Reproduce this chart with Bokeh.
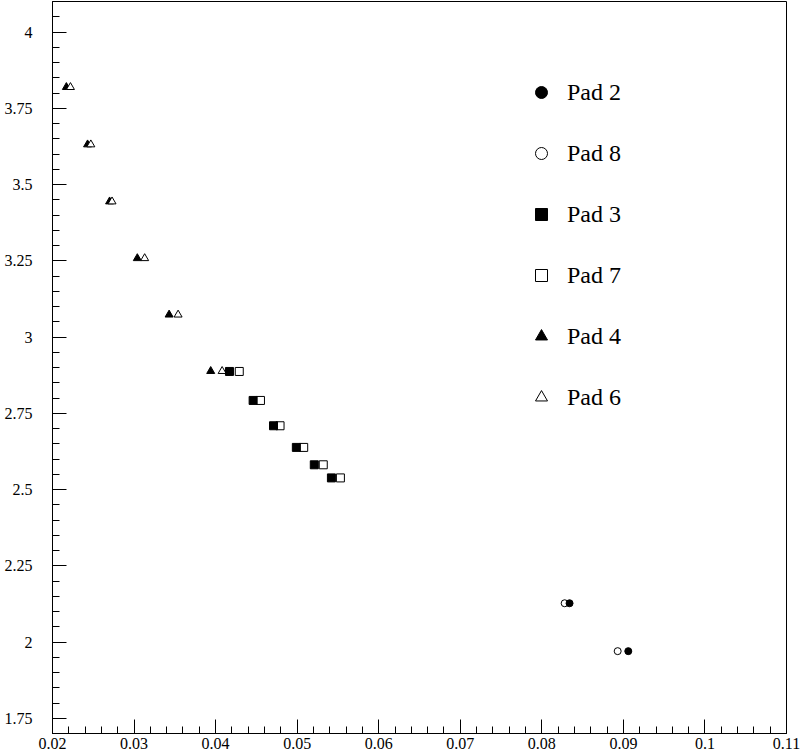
from bokeh.plotting import figure
from bokeh.models import FixedTicker, Legend, LegendItem, Range1d
from bokeh.embed import file_html
from bokeh.resources import INLINE
import numpy as np

# ---- data ----
pad2_x = [0.0834, 0.0906]
pad2_y = [2.127, 1.970]
pad8_x = [0.0828, 0.0893]
pad8_y = [2.127, 1.970]

pad3_x = [0.0417, 0.0446, 0.0471, 0.0499, 0.0521, 0.0542]
pad3_y = [2.887, 2.792, 2.709, 2.638, 2.581, 2.538]
pad7_x = [0.0429, 0.0455, 0.0479, 0.0508, 0.0532, 0.0553]
pad7_y = [2.887, 2.792, 2.709, 2.638, 2.581, 2.538]

pad4_x = [0.0217, 0.0243, 0.0270, 0.0304, 0.0343, 0.0394]
pad4_y = [3.819, 3.631, 3.444, 3.258, 3.073, 2.888]
pad6_x = [0.0222, 0.0247, 0.0273, 0.0313, 0.0354, 0.0408]
pad6_y = [3.819, 3.631, 3.444, 3.258, 3.073, 2.888]

x_ticks = [0.02, 0.03, 0.04, 0.05, 0.06, 0.07, 0.08, 0.09, 0.10, 0.11]
x_tick_labels = ["0.02", "0.03", "0.04", "0.05", "0.06", "0.07", "0.08", "0.09", "0.1", "0.11"]
y_ticks = [1.75, 2.0, 2.25, 2.5, 2.75, 3.0, 3.25, 3.5, 3.75, 4.0]
y_tick_labels = ["1.75", "2", "2.25", "2.5", "2.75", "3", "3.25", "3.5", "3.75", "4"]

FONT = "Liberation Serif"

p = figure(width=800, height=756,
           x_range=Range1d(0.02, 0.11), y_range=Range1d(1.70, 4.10),
           output_backend="svg", toolbar_location=None,
           min_border_left=52, min_border_right=14,
           min_border_top=1, min_border_bottom=23)

p.xgrid.visible = False
p.ygrid.visible = False
p.outline_line_color = "black"
p.outline_line_width = 1
p.background_fill_color = "white"
p.border_fill_color = "white"

x_minor = [round(v, 4) for v in np.arange(0.02, 0.1101, 0.002)]
y_minor = [round(v, 3) for v in np.arange(1.70, 4.101, 0.05)]

p.xaxis.ticker = FixedTicker(ticks=x_ticks, minor_ticks=x_minor)
p.yaxis.ticker = FixedTicker(ticks=y_ticks, minor_ticks=y_minor)
p.xaxis.major_label_overrides = dict(zip(x_ticks, x_tick_labels))
p.yaxis.major_label_overrides = dict(zip(y_ticks, y_tick_labels))

for ax in (p.xaxis[0], p.yaxis[0]):
    ax.axis_line_color = "black"
    ax.major_tick_line_color = "black"
    ax.minor_tick_line_color = "black"
    ax.major_tick_in = 14
    ax.major_tick_out = 0
    ax.minor_tick_in = 7
    ax.minor_tick_out = 0
    ax.major_label_text_font = FONT
    ax.major_label_text_font_size = "16px"
    ax.major_label_text_color = "black"
p.xaxis.major_label_standoff = 4
p.yaxis.major_label_standoff = 20

r4 = p.scatter(pad4_x, pad4_y, marker="triangle", size=8, fill_color="black", line_color="black")
r6 = p.scatter(pad6_x, pad6_y, marker="triangle", size=8, fill_color="white", line_color="black")
r7 = p.scatter(pad7_x, pad7_y, marker="square", size=8, fill_color="white", line_color="black")
r3 = p.scatter(pad3_x, pad3_y, marker="square", size=8, fill_color="black", line_color="black")
r8 = p.scatter(pad8_x, pad8_y, marker="circle", size=7, fill_color="white", line_color="black")
r2 = p.scatter(pad2_x, pad2_y, marker="circle", size=7, fill_color="black", line_color="black")

legend = Legend(items=[
    LegendItem(label="Pad 2", renderers=[r2]),
    LegendItem(label="Pad 8", renderers=[r8]),
    LegendItem(label="Pad 3", renderers=[r3]),
    LegendItem(label="Pad 7", renderers=[r7]),
    LegendItem(label="Pad 4", renderers=[r4]),
    LegendItem(label="Pad 6", renderers=[r6]),
], location=(474, 321))
legend.glyph_width = 30
legend.glyph_height = 30
legend.label_height = 30
legend.spacing = 31
legend.padding = 0
legend.margin = 0
legend.label_standoff = 11
legend.label_text_font = FONT
legend.label_text_font_size = "24px"
legend.label_text_color = "black"
legend.border_line_alpha = 0
legend.background_fill_alpha = 0
p.add_layout(legend)

open("out.html", "w").write(file_html(p, INLINE))
